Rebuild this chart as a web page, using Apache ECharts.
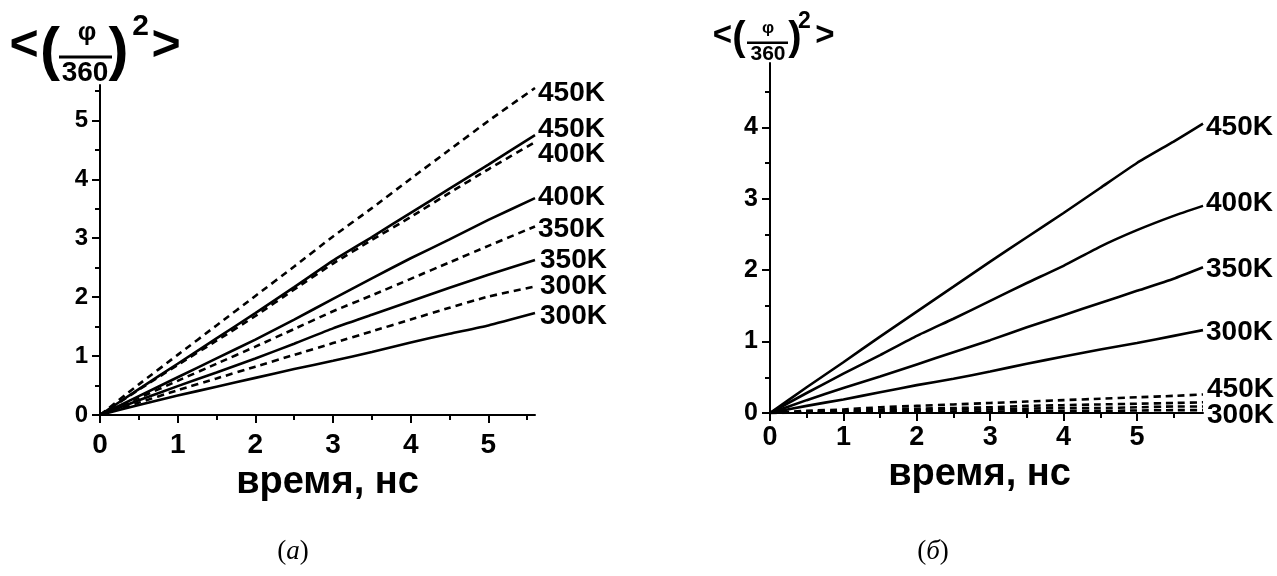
<!DOCTYPE html>
<html>
<head>
<meta charset="utf-8">
<script src="https://cdn.jsdelivr.net/npm/echarts@6/dist/echarts.min.js"></script>
<style>
  html, body { margin: 0; padding: 0; background: #fff; }
  #chart { width: 1277px; height: 576px; }
</style>
</head>
<body>
<div id="chart"></div>
<script>
// ---- data: mean squared rotation angle vs. time ----
// panel (а)
const timeA = [0, 0.5, 1, 1.5, 2, 2.5, 3, 3.5, 4, 4.5, 5, 5.6];
const a450dash  = [0, 0.52, 1.02, 1.52, 2.02, 2.52, 3.03, 3.51, 4.01, 4.50, 4.99, 5.55];
const a450solid = [0, 0.44, 0.87, 1.30, 1.73, 2.17, 2.62, 3.02, 3.43, 3.84, 4.25, 4.75];
const a400dash  = [0, 0.43, 0.85, 1.26, 1.68, 2.13, 2.57, 2.97, 3.36, 3.77, 4.17, 4.63];
const a400solid = [0, 0.32, 0.64, 0.96, 1.28, 1.62, 1.97, 2.32, 2.66, 2.98, 3.31, 3.68];
const a350dash  = [0, 0.29, 0.58, 0.87, 1.16, 1.46, 1.76, 2.03, 2.31, 2.59, 2.87, 3.20];
const a350solid = [0, 0.25, 0.49, 0.72, 0.96, 1.21, 1.47, 1.70, 1.93, 2.16, 2.38, 2.63];
const a300dash  = [0, 0.21, 0.42, 0.62, 0.82, 1.02, 1.22, 1.42, 1.62, 1.82, 2.01, 2.18];
const a300solid = [0, 0.17, 0.33, 0.48, 0.63, 0.78, 0.92, 1.07, 1.23, 1.38, 1.52, 1.73];

// panel (б)
const timeB = [0, 0.5, 1, 1.5, 2, 2.5, 3, 3.5, 4, 4.5, 5, 5.5, 5.9];
const b450solid = [0, 0.36, 0.71, 1.07, 1.42, 1.77, 2.12, 2.46, 2.80, 3.15, 3.50, 3.80, 4.05];
const b400solid = [0, 0.28, 0.55, 0.81, 1.08, 1.32, 1.57, 1.82, 2.06, 2.33, 2.56, 2.76, 2.90];
const b350solid = [0, 0.18, 0.35, 0.51, 0.68, 0.85, 1.02, 1.20, 1.37, 1.54, 1.71, 1.88, 2.04];
const b300solid = [0, 0.10, 0.19, 0.29, 0.39, 0.48, 0.58, 0.69, 0.79, 0.89, 0.98, 1.08, 1.16];
const b450dash  = [0, 0.03, 0.05, 0.08, 0.10, 0.12, 0.14, 0.16, 0.18, 0.20, 0.22, 0.24, 0.26];
const b400dash  = [0, 0.02, 0.03, 0.05, 0.06, 0.07, 0.08, 0.10, 0.11, 0.12, 0.13, 0.14, 0.15];
const b350dash  = [0, 0.01, 0.02, 0.03, 0.04, 0.05, 0.05, 0.06, 0.07, 0.07, 0.08, 0.09, 0.09];
const b300dash  = [0, 0.005, 0.01, 0.01, 0.015, 0.02, 0.02, 0.025, 0.03, 0.03, 0.035, 0.04, 0.04];

// axis ticks
const ticksA_x = [0, 1, 2, 3, 4, 5];
const ticksA_y = [0, 1, 2, 3, 4, 5];
const minorA_x = [0.5, 1.5, 2.5, 3.5, 4.5, 5.5];
const minorA_y = [0.5, 1.5, 2.5, 3.5, 4.5, 5.5];
const ticksB_x = [0, 1, 2, 3, 4, 5];
const ticksB_y = [0, 1, 2, 3, 4];
const minorB_x = [0.5, 1.5, 2.5, 3.5, 4.5, 5.5];
const minorB_y = [0.5, 1.5, 2.5, 3.5, 4.5];

const xTitle = 'время, нс';

// ---- styling ----
const SANS = '"Liberation Sans", Arial, sans-serif';
const SERIF = '"Liberation Serif", "Times New Roman", serif';
const INK = '#000';

function axisPair(dim, grid, max, majors, minors, labelSize, labelMargin, name, nameGap, namePad) {
  const pos = dim === 'x' ? 'bottom' : 'left';
  const main = {
    type: 'value', gridIndex: grid, position: pos, min: 0, max: max,
    axisLine: { show: true, onZero: false, lineStyle: { color: INK, width: 2 } },
    axisTick: { show: true, customValues: majors, length: 8, inside: false, lineStyle: { color: INK, width: 2 } },
    axisLabel: {
      show: true, customValues: majors, margin: labelMargin,
      color: INK, fontFamily: SANS, fontWeight: 'bold', fontSize: labelSize
    },
    splitLine: { show: false },
    minorTick: { show: false }
  };
  if (name) {
    main.name = name;
    main.nameLocation = 'middle';
    main.nameGap = nameGap;
    main.nameTextStyle = { color: INK, fontFamily: SANS, fontWeight: 'bold', fontSize: 38, padding: namePad };
  }
  const minor = {
    type: 'value', gridIndex: grid, position: pos, min: 0, max: max,
    axisLine: { show: false, onZero: false },
    axisTick: { show: true, customValues: minors, length: 5, lineStyle: { color: INK, width: 2 } },
    axisLabel: { show: false },
    splitLine: { show: false }
  };
  return [main, minor];
}

function curve(xs, ys, label, dashed, grid, dx, dy) {
  return {
    type: 'line', name: label || 'curve',
    xAxisIndex: grid * 2, yAxisIndex: grid * 2,
    data: xs.map((x, i) => [x, ys[i]]),
    symbol: 'none', showSymbol: false, smooth: 0.15,
    lineStyle: { color: INK, width: 2.6, type: dashed ? [7, 5] : 'solid', cap: 'butt' },
    endLabel: {
      show: !!label, formatter: label, distance: 3, offset: [dx, dy],
      color: INK, fontFamily: SANS, fontWeight: 'bold', fontSize: 28
    },
    silent: true, animation: false, z: 3
  };
}

// pieces of the stacked y-axis title  <(φ/360)²>
function fractionTitle(p) {
  const t = (text, x, y, size) => ({
    type: 'text', x: x, y: y, silent: true,
    style: {
      text: text, fill: INK, font: 'bold ' + size + 'px ' + SANS,
      align: 'center', verticalAlign: 'middle', textAlign: 'center', textVerticalAlign: 'middle'
    }
  });
  return [
    t('<', p.lt[0], p.lt[1], p.big),
    t('(', p.lp[0], p.lp[1], p.paren),
    t('φ', p.phi[0], p.phi[1], p.phiSize),
    { type: 'rect', silent: true, shape: { x: p.bar[0], y: p.bar[1], width: p.bar[2], height: p.bar[3] }, style: { fill: INK } },
    t('360', p.den[0], p.den[1], p.denSize),
    t(')', p.rp[0], p.rp[1], p.paren),
    t('2', p.sq[0], p.sq[1], p.sqSize),
    t('>', p.gt[0], p.gt[1], p.big)
  ];
}

function caption(letter, x, y) {
  return {
    type: 'text', x: x, y: y, silent: true,
    style: {
      text: '{n|(}{i|' + letter + '}{n|)}',
      align: 'center', verticalAlign: 'middle', textAlign: 'center', textVerticalAlign: 'middle',
      rich: {
        n: { fontFamily: SERIF, fontSize: 27, fill: INK, color: INK },
        i: { fontFamily: SERIF, fontSize: 27, fontStyle: 'italic', fill: INK, color: INK }
      }
    }
  };
}

const xAxes = [].concat(
  axisPair('x', 0, 5.6, ticksA_x, minorA_x, 28, 16, xTitle, 31, [0, 0, 0, 20]),
  axisPair('x', 1, 5.9, ticksB_x, minorB_x, 27, 11, xTitle, 34, [0, 14, 0, 0])
);
const yAxes = [].concat(
  axisPair('y', 0, 5.6, ticksA_y, minorA_y, 24, 12),
  axisPair('y', 1, 4.9, ticksB_y, minorB_y, 25, 12)
);

const series = [
  curve(timeA, a450dash, '450K', true, 0, 0, 5),
  curve(timeA, a450solid, '450K', false, 0, 0, -6),
  curve(timeA, a400dash, '400K', true, 0, 0, 12),
  curve(timeA, a400solid, '400K', false, 0, 0, -1),
  curve(timeA, a350dash, '350K', true, 0, 0, 3),
  curve(timeA, a350solid, '350K', false, 0, 2, 0),
  curve(timeA, a300dash, '300K', true, 0, 2, 0),
  curve(timeA, a300solid, '300K', false, 0, 2, 3),

  curve(timeB, b450solid, '450K', false, 1, 0, 4),
  curve(timeB, b400solid, '400K', false, 1, 0, -3),
  curve(timeB, b350solid, '350K', false, 1, 0, 2),
  curve(timeB, b300solid, '300K', false, 1, 0, 2),
  curve(timeB, b450dash, '450K', true, 1, 1, -5),
  curve(timeB, b400dash, '', true, 1, 0, 0),
  curve(timeB, b350dash, '', true, 1, 0, 0),
  curve(timeB, b300dash, '300K', true, 1, 1, 5)
];

const graphics = [].concat(
  fractionTitle({
    big: 50, paren: 60, phiSize: 26, denSize: 28, sqSize: 30,
    lt: [24, 46], lp: [50, 52], phi: [87, 33], bar: [59, 55.5, 53, 3],
    den: [85, 73], rp: [118.5, 52], sq: [140.5, 27], gt: [166, 46]
  }),
  fractionTitle({
    big: 33, paren: 40, phiSize: 17, denSize: 21, sqSize: 23,
    lt: [722.5, 36], lp: [739, 39], phi: [768, 28], bar: [747, 41.5, 41, 2.5],
    den: [768, 54.5], rp: [795, 39], sq: [804.5, 22], gt: [825, 36]
  }),
  [caption('а', 293, 552), caption('б', 933, 552)]
);

const chart = echarts.init(document.getElementById('chart'), null, { renderer: 'canvas' });
chart.setOption({
  backgroundColor: '#fff',
  animation: false,
  grid: [
    { left: 100, top: 85, width: 435, height: 330, outerBoundsMode: 'none', containLabel: false },
    { left: 770, top: 63, width: 433, height: 350, outerBoundsMode: 'none', containLabel: false }
  ],
  xAxis: xAxes,
  yAxis: yAxes,
  series: series,
  graphic: { elements: graphics }
});
</script>
</body>
</html>
